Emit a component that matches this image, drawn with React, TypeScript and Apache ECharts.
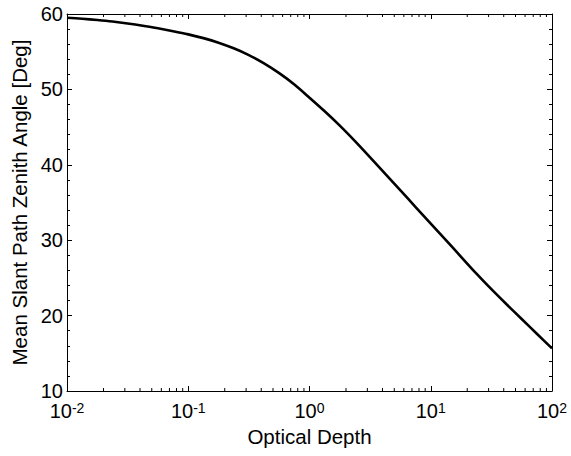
import React, { useEffect, useRef } from "react";
import * as echarts from "echarts";

// Optical depth (x, log scale) and mean slant path zenith angle (y, degrees)
const opticalDepth = [
  0.01, 0.01334, 0.01778, 0.02371, 0.03162, 0.04217, 0.05623, 0.07499,
  0.1, 0.1334, 0.1778, 0.2371, 0.3162, 0.4217, 0.5623, 0.7499,
  1, 1.334, 1.778, 2.371, 3.162, 4.217, 5.623, 7.499,
  10, 13.34, 17.78, 23.71, 31.62, 42.17, 56.23, 74.99, 100,
];
const zenithAngle = [
  59.5, 59.37, 59.2, 59.0, 58.75, 58.45, 58.1, 57.72,
  57.3, 56.8, 56.2, 55.45, 54.55, 53.45, 52.15, 50.65,
  48.9, 47.1, 45.2, 43.15, 41.0, 38.8, 36.6, 34.4,
  32.2, 30.0, 27.8, 25.6, 23.5, 21.5, 19.55, 17.6, 15.65,
];

const xMin = 0.01;
const xMax = 100;
const yMin = 10;
const yMax = 60;
const yInterval = 10;
const minorMultipliers = [2, 3, 4, 5, 6, 7, 8, 9];
const decades = [0.01, 0.1, 1, 10];

const FONT = "'Liberation Sans', Arial, Helvetica, sans-serif";

export default function App() {
  const ref = useRef<HTMLDivElement>(null);
  useEffect(() => {
    document.body.style.margin = "0";
    if (!ref.current) return;
    const chart = echarts.init(ref.current, undefined, { renderer: "svg" });
    const minorTicks: number[][] = [];
    decades.forEach((d) => minorMultipliers.forEach((m) => minorTicks.push([m * d, yMin])));
    const tickStyle = { color: "#000", width: 1 };
    const xLabel = (v: number) => {
      const e = Math.round(Math.log10(v));
      return `{b|10}{s|${e}}`;
    };
    chart.setOption({
      animation: false,
      backgroundColor: "#fff",
      grid: { left: 67, right: 19, top: 14, bottom: 65 },
      xAxis: [
        {
          type: "log",
          logBase: 10,
          min: xMin,
          max: xMax,
          position: "bottom",
          name: "Optical Depth",
          nameLocation: "middle",
          nameGap: 32,
          nameTextStyle: { fontFamily: FONT, fontSize: 20.5, color: "#000" },
          axisLine: { show: true, onZero: false, lineStyle: { color: "#000", width: 1 } },
          axisTick: { show: true, inside: true, length: 5, lineStyle: tickStyle },
          splitLine: { show: false },
          axisLabel: {
            formatter: xLabel,
            margin: 10,
            rich: {
              b: { fontFamily: FONT, fontSize: 20, lineHeight: 20, color: "#000", padding: [4, 0, 0, 0], verticalAlign: "bottom" },
              s: { fontFamily: FONT, fontSize: 14, lineHeight: 14, color: "#000", verticalAlign: "top" },
            },
          },
        },
        {
          type: "log",
          logBase: 10,
          min: xMin,
          max: xMax,
          position: "top",
          axisLine: { show: true, onZero: false, lineStyle: { color: "#000", width: 1 } },
          axisTick: { show: true, inside: true, length: 5, lineStyle: tickStyle },
          splitLine: { show: false },
          axisLabel: { show: false },
        },
      ],
      yAxis: [
        {
          type: "value",
          min: yMin,
          max: yMax,
          interval: yInterval,
          position: "left",
          name: "Mean Slant Path Zenith Angle [Deg]",
          nameLocation: "middle",
          nameGap: 33,
          nameTextStyle: { fontFamily: FONT, fontSize: 20.5, color: "#000" },
          axisLine: { show: true, onZero: false, lineStyle: { color: "#000", width: 1 } },
          axisTick: { show: true, inside: true, length: 5, lineStyle: tickStyle },
          minorTick: { show: true, splitNumber: 5, length: 3, lineStyle: tickStyle },
          splitLine: { show: false },
          axisLabel: { fontFamily: FONT, fontSize: 20, color: "#000", margin: 4 },
        },
        {
          type: "value",
          min: yMin,
          max: yMax,
          interval: yInterval,
          position: "right",
          axisLine: { show: true, onZero: false, lineStyle: { color: "#000", width: 1 } },
          axisTick: { show: true, inside: true, length: 5, lineStyle: tickStyle },
          minorTick: { show: true, splitNumber: 5, length: 3, lineStyle: tickStyle },
          splitLine: { show: false },
          axisLabel: { show: false },
        },
      ],
      series: [
        {
          type: "line",
          data: opticalDepth.map((x, i) => [x, zenithAngle[i]]),
          smooth: 0.3,
          showSymbol: false,
          lineStyle: { color: "#000", width: 2.6 },
          clip: false,
        },
        {
          type: "custom",
          silent: true,
          clip: false,
          data: minorTicks,
          encode: { x: 0, y: 1 },
          renderItem: (params: any, api: any) => {
            const x = api.value(0);
            const pb = api.coord([x, yMin]);
            const pt = api.coord([x, yMax]);
            const st = { stroke: "#000", lineWidth: 1 };
            return {
              type: "group",
              children: [
                { type: "line", shape: { x1: pb[0], y1: pb[1], x2: pb[0], y2: pb[1] - 3 }, style: st },
                { type: "line", shape: { x1: pt[0], y1: pt[1], x2: pt[0], y2: pt[1] + 3 }, style: st },
              ],
            };
          },
        },
      ],
    });
    return () => chart.dispose();
  }, []);
  return <div ref={ref} style={{ width: 571, height: 456 }} />;
}
